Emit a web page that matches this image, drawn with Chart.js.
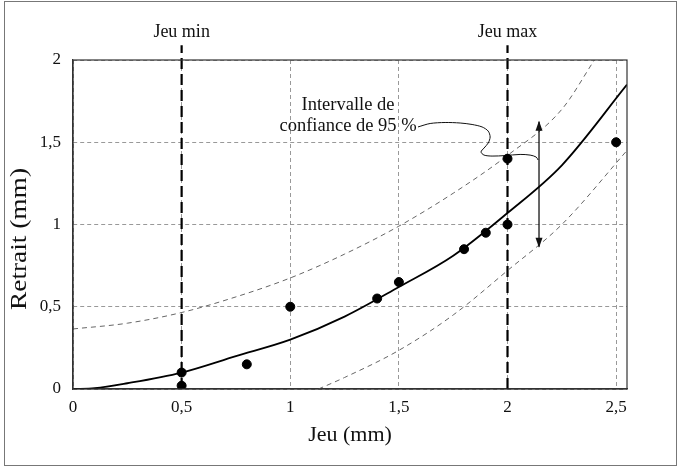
<!DOCTYPE html>
<html><head><meta charset="utf-8">
<script src="https://cdn.jsdelivr.net/npm/chart.js@4"></script>
<style>html,body{margin:0;padding:0;background:#fff}#wrap{width:680px;height:468px;position:relative}</style>
</head><body><div id="wrap"><canvas id="c"></canvas></div>
<script>
const measuredX = [0.5, 0.5, 0.8, 1.0, 1.4, 1.5, 1.8, 1.9, 2.0, 2.0, 2.5];
const measuredY = [0.02, 0.10, 0.15, 0.50, 0.55, 0.65, 0.85, 0.95, 1.00, 1.40, 1.50];
const fitX = [0, 0.1, 0.25, 0.5, 0.75, 1.0, 1.25, 1.5, 1.75, 2.0, 2.25, 2.55];
const fitY = [0, 0.005, 0.035, 0.10, 0.20, 0.30, 0.44, 0.62, 0.81, 1.07, 1.36, 1.85];
const upperX = [0, 0.25, 0.5, 0.75, 1.0, 1.25, 1.5, 1.75, 2.0, 2.25, 2.4];
const upperY = [0.365, 0.40, 0.465, 0.56, 0.675, 0.82, 0.99, 1.19, 1.42, 1.70, 2.0];
const lowerX = [1.13, 1.25, 1.5, 1.75, 2.0, 2.25, 2.55];
const lowerY = [0, 0.07, 0.235, 0.45, 0.72, 1.0, 1.45];
const jeuX = [0.5, 2.0];
const jeuLabels = ['Jeu min', 'Jeu max'];
const jeuTop = 2.09;
const xTicks = [0, 0.5, 1, 1.5, 2, 2.5];
const xTickLabels = ['0', '0,5', '1', '1,5', '2', '2,5'];
const yTicks = [0, 0.5, 1, 1.5, 2];
const yTickLabels = ['0', '0,5', '1', '1,5', '2'];
const intervalX = 2.145, intervalLow = 0.865, intervalHigh = 1.625;
const noteLines = ['Intervalle de', 'confiance de 95 %'];
const noteX = 1.266, noteY = [1.726, 1.599];
const leaderX = [1.588, 1.644, 1.713, 1.782, 1.837, 1.883, 1.911, 1.920, 1.911, 1.892, 1.878, 1.892, 1.929, 1.989, 2.058, 2.104, 2.132, 2.141];
const leaderY = [1.593, 1.614, 1.620, 1.617, 1.608, 1.593, 1.568, 1.532, 1.495, 1.465, 1.441, 1.422, 1.416, 1.419, 1.426, 1.422, 1.410, 1.392];
const yTitle = 'Retrait (mm)';

const pts = (xs, ys) => xs.map((x, i) => ({x, y: ys[i]}));
const FONT = "'Liberation Serif', 'Times New Roman', serif";
Chart.defaults.font.family = FONT;
Chart.defaults.color = '#111';

const overlay = {
  id: 'overlay',
  afterDatasetsDraw(chart) {
    const {ctx, chartArea: a, scales: {x, y}} = chart;
    ctx.save();
    ctx.strokeStyle = '#333'; ctx.lineWidth = 1.2; ctx.setLineDash([]);
    ctx.strokeRect(a.left, a.top, a.right - a.left, a.bottom - a.top);
    ctx.fillStyle = '#111';
    ctx.font = '18px ' + FONT; ctx.textAlign = 'center'; ctx.textBaseline = 'middle';
    jeuX.forEach((v, i) => ctx.fillText(jeuLabels[i], x.getPixelForValue(v), 32));
    ctx.font = '18.5px ' + FONT;
    noteLines.forEach((t, i) => ctx.fillText(t, x.getPixelForValue(noteX), y.getPixelForValue(noteY[i])));
    // arrowheads
    const ax = x.getPixelForValue(intervalX);
    const yt = y.getPixelForValue(intervalHigh), yb = y.getPixelForValue(intervalLow);
    ctx.beginPath(); ctx.moveTo(ax, yt - 1); ctx.lineTo(ax - 3.5, yt + 9); ctx.lineTo(ax + 3.5, yt + 9); ctx.closePath(); ctx.fill();
    ctx.beginPath(); ctx.moveTo(ax, yb + 1); ctx.lineTo(ax - 3.5, yb - 9); ctx.lineTo(ax + 3.5, yb - 9); ctx.closePath(); ctx.fill();
    // y axis title
    ctx.translate(20, 239); ctx.rotate(-Math.PI / 2);
    ctx.font = '23px ' + FONT;
    const w = ctx.measureText(yTitle).width;
    ctx.scale(142 / w, 1);
    ctx.fillText(yTitle, 0, 0);
    ctx.restore();
  },
  afterDraw(chart) {
    const ctx = chart.ctx;
    ctx.save(); ctx.strokeStyle = '#777'; ctx.lineWidth = 1;
    ctx.strokeRect(4.5, 1.5, 672, 464);
    ctx.restore();
  }
};

new Chart(document.getElementById('c'), {
  type: 'scatter',
  data: {
    datasets: [
      {data: pts(measuredX, measuredY), backgroundColor: '#000', borderColor: '#000', pointRadius: 4.5, pointHoverRadius: 4.5, order: 0},
      {data: pts(fitX, fitY), showLine: true, borderColor: '#000', borderWidth: 1.8, pointRadius: 0, cubicInterpolationMode: 'monotone', order: 1},
      {data: pts(upperX, upperY), showLine: true, borderColor: '#666', borderWidth: 1, borderDash: [5, 4], pointRadius: 0, cubicInterpolationMode: 'monotone', order: 2},
      {data: pts(lowerX, lowerY), showLine: true, borderColor: '#666', borderWidth: 1, borderDash: [5, 4], pointRadius: 0, cubicInterpolationMode: 'monotone', order: 2},
      {data: [{x: jeuX[0], y: 0}, {x: jeuX[0], y: jeuTop}], showLine: true, borderColor: '#000', borderWidth: 2.2, borderDash: [11, 5], pointRadius: 0, clip: false, order: 3},
      {data: [{x: jeuX[1], y: 0}, {x: jeuX[1], y: jeuTop}], showLine: true, borderColor: '#000', borderWidth: 2.2, borderDash: [11, 5], pointRadius: 0, clip: false, order: 3},
      {data: [{x: intervalX, y: intervalLow}, {x: intervalX, y: intervalHigh}], showLine: true, borderColor: '#000', borderWidth: 1.2, pointRadius: 0, order: 1},
      {data: pts(leaderX, leaderY), showLine: true, borderColor: '#111', borderWidth: 1, pointRadius: 0, tension: 0.3, order: 1}
    ]
  },
  options: {
    responsive: true, maintainAspectRatio: false, animation: false,
    layout: {padding: {left: 0, top: 60, right: 53, bottom: 0}},
    plugins: {legend: {display: false}, tooltip: {enabled: false}},
    scales: {
      x: {
        type: 'linear', min: 0, max: 2.55,
        afterBuildTicks: s => { s.ticks = xTicks.map(v => ({value: v})); },
        afterFit: s => { s.height = 79; },
        ticks: {callback: (v) => xTickLabels[xTicks.indexOf(v)], font: {size: 17}, padding: 8, color: '#111', maxRotation: 0},
        grid: {color: '#999', lineWidth: 1, drawTicks: false},
        border: {color: '#333', width: 1.2, dash: [4, 3]},
        title: {display: true, text: 'Jeu (mm)', font: {size: 22}, color: '#111', padding: {top: 0, bottom: 20}}
      },
      y: {
        type: 'linear', min: 0, max: 2,
        afterBuildTicks: s => { s.ticks = yTicks.map(v => ({value: v})); },
        afterFit: s => { s.width = 73; },
        ticks: {callback: (v) => yTickLabels[yTicks.indexOf(v)], font: {size: 17}, padding: 12, color: '#111'},
        grid: {color: '#999', lineWidth: 1, drawTicks: false},
        border: {color: '#333', width: 1.2, dash: [4, 3]},
        title: {display: false}
      }
    }
  },
  plugins: [overlay]
});
</script></body></html>
